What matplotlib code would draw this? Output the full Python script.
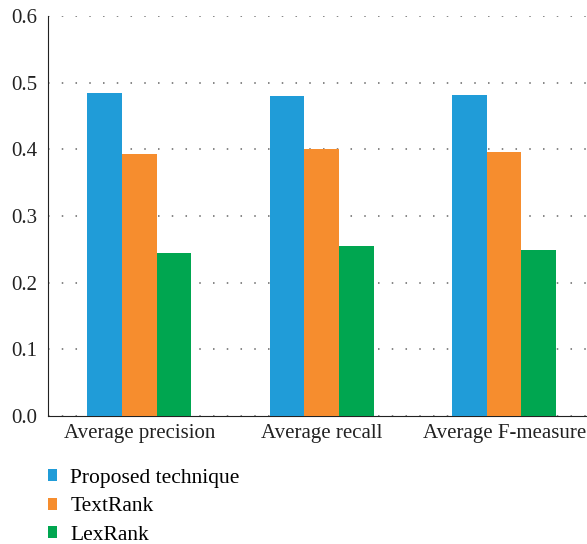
import matplotlib.pyplot as plt
import numpy as np

plt.rcParams['font.family'] = ['Liberation Serif', 'DejaVu Serif']

categories = ['Average precision', 'Average recall', 'Average F-measure']
proposed = [0.485, 0.480, 0.482]
textrank = [0.393, 0.401, 0.396]
lexrank = [0.245, 0.255, 0.249]
series_names = ['Proposed technique', 'TextRank', 'LexRank']
colors = ['#209CD8', '#F68D2E', '#00A650']

fig = plt.figure(figsize=(5.87, 5.44), dpi=100)
ax = fig.add_axes([0.082, 0.235, 0.918, 0.736])

x = np.arange(len(categories))
w = 0.19
for i, (vals, name, c) in enumerate(zip([proposed, textrank, lexrank], series_names, colors)):
    ax.bar(x + (i - 1) * w, vals, width=w, color=c, label=name, zorder=3)

ax.set_ylim(0, 0.6)
ax.set_xlim(-0.499, 2.454)
ax.set_yticks(np.arange(0, 0.61, 0.1))
ax.set_yticklabels([f'{v:.1f}' for v in np.arange(0, 0.61, 0.1)])
ax.set_xticks(x)
ax.set_xticklabels(categories)
ax.tick_params(axis='both', length=0, labelsize=15, colors='#222222')
ax.tick_params(axis='x', pad=6)
ax.tick_params(axis='y', pad=8)
ax.yaxis.grid(True, linestyle=(0, (1, 8)), color='#666666', linewidth=1.1, zorder=0)
ax.spines['top'].set_visible(False)
ax.spines['right'].set_visible(False)
ax.spines['left'].set_color('#222222')
ax.spines['bottom'].set_color('#222222')

fig.legend(loc='upper left', bbox_to_anchor=(0.081, 0.138), frameon=False,
           fontsize=15.5, handlelength=0.46, handleheight=0.46, labelspacing=0.44,
           handletextpad=0.6, borderpad=0, borderaxespad=0)

fig.savefig('out.png', dpi=100)
